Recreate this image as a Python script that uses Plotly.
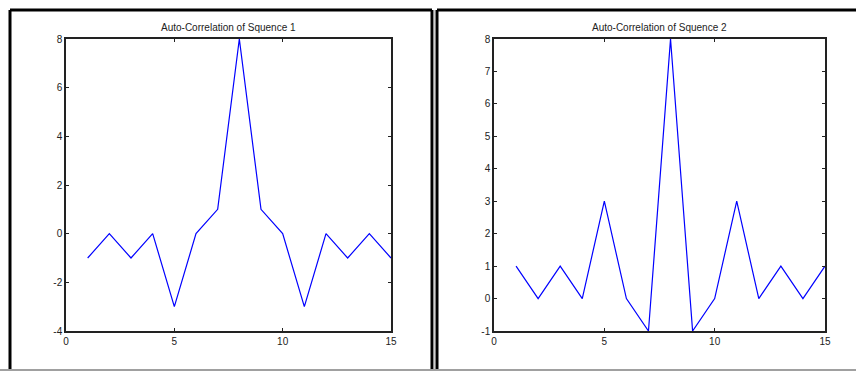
import plotly.graph_objects as go

x_vals = list(range(1, 16))
seq1_acf = [-1, 0, -1, 0, -3, 0, 1, 8, 1, 0, -3, 0, -1, 0, -1]
seq2_acf = [1, 0, 1, 0, 3, 0, -1, 8, -1, 0, 3, 0, 1, 0, 1]
titles = ["Auto-Correlation of Squence 1", "Auto-Correlation of Squence 2"]
x_ticks = [0, 5, 10, 15]
y1_ticks = [-4, -2, 0, 2, 4, 6, 8]
y2_ticks = [-1, 0, 1, 2, 3, 4, 5, 6, 7, 8]

W, H = 856, 371
FONT = "Liberation Sans, Arial, sans-serif"

def px(v):
    return v / W

def py(v):
    return (H - v) / H

def labels(vals):
    return [str(v) for v in vals]

fig = go.Figure()
fig.add_trace(go.Scatter(x=x_vals, y=seq1_acf, mode="lines",
                         line=dict(color="#0000ff", width=1.2),
                         xaxis="x", yaxis="y", showlegend=False))
fig.add_trace(go.Scatter(x=x_vals, y=seq2_acf, mode="lines",
                         line=dict(color="#0000ff", width=1.2),
                         xaxis="x2", yaxis="y2", showlegend=False))

axis_common = dict(showgrid=False, zeroline=False, showline=True,
                   linecolor="#222", linewidth=1.5, mirror="ticks",
                   ticks="inside", ticklen=3, tickwidth=1, tickcolor="#222",
                   automargin=False,
                   tickfont=dict(family=FONT, size=10, color="#222"))

ytop, ybot = 39, 331
fig.update_layout(
    width=W, height=H,
    margin=dict(l=0, r=0, t=0, b=0, pad=0, autoexpand=False),
    paper_bgcolor="white", plot_bgcolor="white",
    xaxis=dict(domain=[px(66), px(391)], range=[0, 15], tickvals=x_ticks,
               ticktext=labels(x_ticks), anchor="y", **axis_common),
    yaxis=dict(domain=[py(ybot), py(ytop)], range=[-4, 8], tickvals=y1_ticks,
               ticktext=labels(y1_ticks), anchor="x", **axis_common),
    xaxis2=dict(domain=[px(494), px(825)], range=[0, 15], tickvals=x_ticks,
                ticktext=labels(x_ticks), anchor="y2", **axis_common),
    yaxis2=dict(domain=[py(ybot), py(ytop)], range=[-1, 8], tickvals=y2_ticks,
                ticktext=labels(y2_ticks), anchor="x2", **axis_common),
)

# Titles
for cx, t in [((66 + 391) / 2, titles[0]), ((494 + 825) / 2, titles[1])]:
    fig.add_annotation(x=px(cx), y=py(27), xref="paper", yref="paper",
                       text=t, showarrow=False,
                       font=dict(family=FONT, size=10, color="#222"),
                       xanchor="center", yanchor="middle")

# Figure frames
shapes = []
shapes.append(dict(type="line", xref="paper", yref="paper",
                   x0=px(10), x1=px(432), y0=py(10), y1=py(10),
                   line=dict(color="black", width=3)))
shapes.append(dict(type="line", xref="paper", yref="paper",
                   x0=px(10), x1=px(10), y0=py(10), y1=py(370),
                   line=dict(color="black", width=3)))
shapes.append(dict(type="line", xref="paper", yref="paper",
                   x0=px(432), x1=px(432), y0=py(10), y1=py(370),
                   line=dict(color="black", width=3)))
shapes.append(dict(type="line", xref="paper", yref="paper",
                   x0=px(434), x1=px(434), y0=py(10), y1=py(370),
                   line=dict(color="#a0a0a0", width=1)))
shapes.append(dict(type="line", xref="paper", yref="paper",
                   x0=px(437), x1=px(860), y0=py(10), y1=py(10),
                   line=dict(color="black", width=3)))
shapes.append(dict(type="line", xref="paper", yref="paper",
                   x0=px(437), x1=px(437), y0=py(10), y1=py(370),
                   line=dict(color="black", width=3)))
shapes.append(dict(type="line", xref="paper", yref="paper",
                   x0=0, x1=1, y0=py(370), y1=py(370),
                   line=dict(color="#a0a0a0", width=2)))
fig.update_layout(shapes=shapes)

fig.write_html("out.html")
